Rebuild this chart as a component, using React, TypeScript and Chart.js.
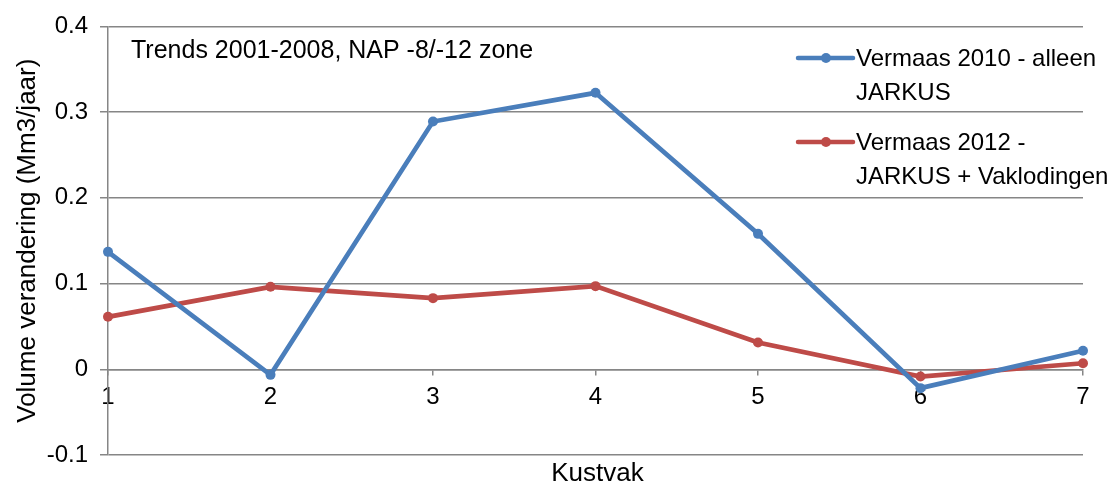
import React, { useEffect, useRef } from "react";
import { Chart, registerables } from "chart.js";

Chart.register(...registerables);

const categories = ["1", "2", "3", "4", "5", "6", "7"];
const seriesNames = [
  ["Vermaas 2010 - alleen", "JARKUS"],
  ["Vermaas 2012 -", "JARKUS + Vaklodingen"],
];
const vermaas2010 = [0.137, -0.0065, 0.289, 0.3225, 0.158, -0.022, 0.0216];
const vermaas2012 = [0.0612, 0.0962, 0.083, 0.097, 0.0313, -0.0085, 0.007];
const yTicks = [0.4, 0.3, 0.2, 0.1, 0, -0.1];
const annotationText = "Trends 2001-2008, NAP -8/-12 zone";
const xTitle = "Kustvak";
const yTitle = "Volume verandering (Mm3/jaar)";

const BLUE = "#4a7ebb";
const RED = "#be4b48";
const GRID = "#868686";
const FONT = "'Liberation Sans', Arial, sans-serif";

const extrasPlugin = {
  id: "extras",
  afterDraw(chart: any) {
    const ctx = chart.ctx;
    const area = chart.chartArea;
    ctx.save();
    ctx.fillStyle = "#000";
    // annotation
    ctx.font = `25px ${FONT}`;
    ctx.textAlign = "left";
    ctx.textBaseline = "alphabetic";
    ctx.fillText(annotationText, 131, 58);
    // x title
    ctx.font = `26px ${FONT}`;
    ctx.textAlign = "center";
    ctx.fillText(xTitle, (area.left + area.right) / 2 + 2, 481);
    // y title
    ctx.save();
    ctx.translate(35, (area.top + area.bottom) / 2);
    ctx.rotate(-Math.PI / 2);
    ctx.fillText(yTitle, 0, 0);
    ctx.restore();
    // legend
    const legendTops = [58, 142];
    chart.data.datasets.forEach((ds: any, i: number) => {
      const y = legendTops[i];
      ctx.strokeStyle = ds.borderColor;
      ctx.lineWidth = 4.5;
      ctx.lineCap = "round";
      ctx.beginPath();
      ctx.moveTo(798, y);
      ctx.lineTo(853, y);
      ctx.stroke();
      ctx.fillStyle = ds.borderColor;
      ctx.beginPath();
      ctx.arc(826, y, 5, 0, Math.PI * 2);
      ctx.fill();
      ctx.fillStyle = "#000";
      ctx.font = `24px ${FONT}`;
      ctx.textAlign = "left";
      const lines: string[] = seriesNames[i];
      lines.forEach((line, j) => {
        ctx.fillText(line, 856, y + 8 + j * 33.5);
      });
    });
    ctx.restore();
  },
};

export default function App() {
  const ref = useRef<HTMLCanvasElement | null>(null);
  useEffect(() => {
    document.body.style.margin = "0";
    const canvas = ref.current!;
    const chart = new Chart(canvas, {
      type: "line",
      data: {
        labels: categories,
        datasets: [
          {
            label: seriesNames[0].join(" "),
            data: vermaas2010,
            borderColor: BLUE,
            backgroundColor: BLUE,
            borderWidth: 4.7,
            pointRadius: 5,
            pointBorderWidth: 0,
            tension: 0,
          },
          {
            label: seriesNames[1].join(" "),
            data: vermaas2012,
            borderColor: RED,
            backgroundColor: RED,
            borderWidth: 4.7,
            pointRadius: 5,
            pointBorderWidth: 0,
            tension: 0,
          },
        ],
      },
      options: {
        responsive: false,
        animation: false,
        layout: { padding: { left: 0, right: 29, top: 24, bottom: 33 } },
        plugins: {
          legend: { display: false },
          tooltip: { enabled: false },
        },
        scales: {
          x: {
            type: "category",
            position: { y: 0 } as any,
            offset: false,
            afterFit: (s: any) => {
              s.height = 0;
            },
            grid: {
              drawOnChartArea: false,
              drawTicks: true,
              tickLength: 5,
              color: GRID,
              lineWidth: 1.5,
            },
            border: { display: true, color: GRID, width: 1.5 },
            ticks: {
              color: "#000",
              padding: 9,
              maxRotation: 0,
              font: { family: FONT, size: 24 },
            },
          },
          y: {
            min: -0.1,
            max: 0.4,
            afterFit: (s: any) => {
              s.width = 108;
            },
            afterBuildTicks: (s: any) => {
              s.ticks = yTicks.map((v) => ({ value: v }));
            },
            grid: {
              color: GRID,
              lineWidth: 1.5,
              tickLength: 8,
            },
            border: { display: true, color: GRID, width: 1.5 },
            ticks: {
              color: "#000",
              padding: 12,
              font: { family: FONT, size: 24 },
              callback: (v: any) => (Math.abs(v) < 1e-9 ? "0" : String(Math.round(v * 10) / 10)),
            },
          },
        },
      },
      plugins: [extrasPlugin],
    });
    return () => chart.destroy();
  }, []);
  return (
    <div style={{ width: 1112, height: 488 }}>
      <canvas ref={ref} width={1112} height={488} style={{ display: "block" }} />
    </div>
  );
}
